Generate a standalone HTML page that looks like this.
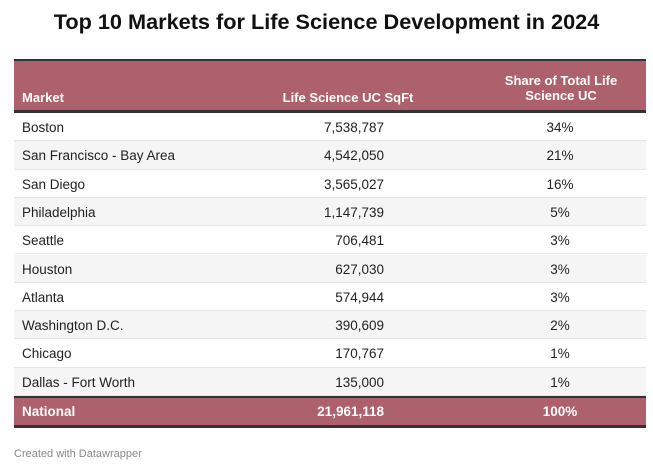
<!DOCTYPE html>
<html><head><meta charset="utf-8"><style>
body{margin:0;width:653px;height:465px;background:#fff;font-family:"Liberation Sans",Arial,sans-serif;position:relative;overflow:hidden;color:#222}
.abs{position:absolute}
h1{position:absolute;top:9px;left:0;width:653px;margin:0;text-align:center;font-size:21.7px;font-weight:bold;color:#111}
.hdr{left:14px;width:632px;top:59px;height:54px;background:#ad616c;border-top:2px solid #333;border-bottom:3px solid #333;box-sizing:border-box}
.ht{color:#fff;font-weight:bold;font-size:13px;line-height:15px}
.row{left:14px;width:632px;height:28.3px;border-bottom:1px solid #e6e6e6;box-sizing:border-box;font-size:13.5px}
.row span{position:absolute;top:7px}
.c1{left:8px}.c2{right:262px;text-align:right}.c3{left:546px;width:0;display:flex;justify-content:center}
.tot{left:14px;width:632px;top:396px;height:32px;background:#ad616c;border-top:2px solid #333;border-bottom:3px solid #333;box-sizing:border-box;color:#fff;font-weight:bold;font-size:13.5px}
.tot span{position:absolute;top:6px}
.foot{left:14px;top:448px;font-size:11px;color:#888}
</style></head><body>
<h1>Top 10 Markets for Life Science Development in 2024</h1>
<div class="abs hdr">
<div class="abs ht" style="left:8px;top:29px">Market</div>
<div class="abs ht" style="left:230px;width:188px;text-align:center;top:29px;margin-left:10px">Life Science UC SqFt</div>
<div class="abs ht" style="left:477px;width:140px;text-align:center;top:12px">Share of Total Life Science UC</div>
</div>
<div id="rows"></div>
<div class="abs tot">
<span class="c1">National</span>
<span class="c2">21,961,118</span>
<span class="c3"><b>100%</b></span>
</div>
<div class="abs foot">Created with Datawrapper</div>
<script>
const markets=["Boston","San Francisco - Bay Area","San Diego","Philadelphia","Seattle","Houston","Atlanta","Washington D.C.","Chicago","Dallas - Fort Worth"];
const sqft=[7538787,4542050,3565027,1147739,706481,627030,574944,390609,170767,135000];
const shares=[34,21,16,5,3,3,3,2,1,1];
const c=document.getElementById('rows');
markets.forEach((m,i)=>{
 const r=document.createElement('div');
 r.className='abs row';
 r.style.top=(113+i*28.3)+'px';
 r.style.background=i%2?'#f5f5f5':'#fff';
 
 
 const a=document.createElement('span');a.className='c1';a.textContent=m;
 
 
 const b=document.createElement('span');b.className='c2';b.textContent=sqft[i].toLocaleString('en-US');
 
 
 const d=document.createElement('span');d.className='c3';d.innerHTML='<i style="font-style:normal">'+shares[i]+'%</i>';
 
 
 r.append(a,b,d);c.appendChild(r);
});
</script>
</body></html>
